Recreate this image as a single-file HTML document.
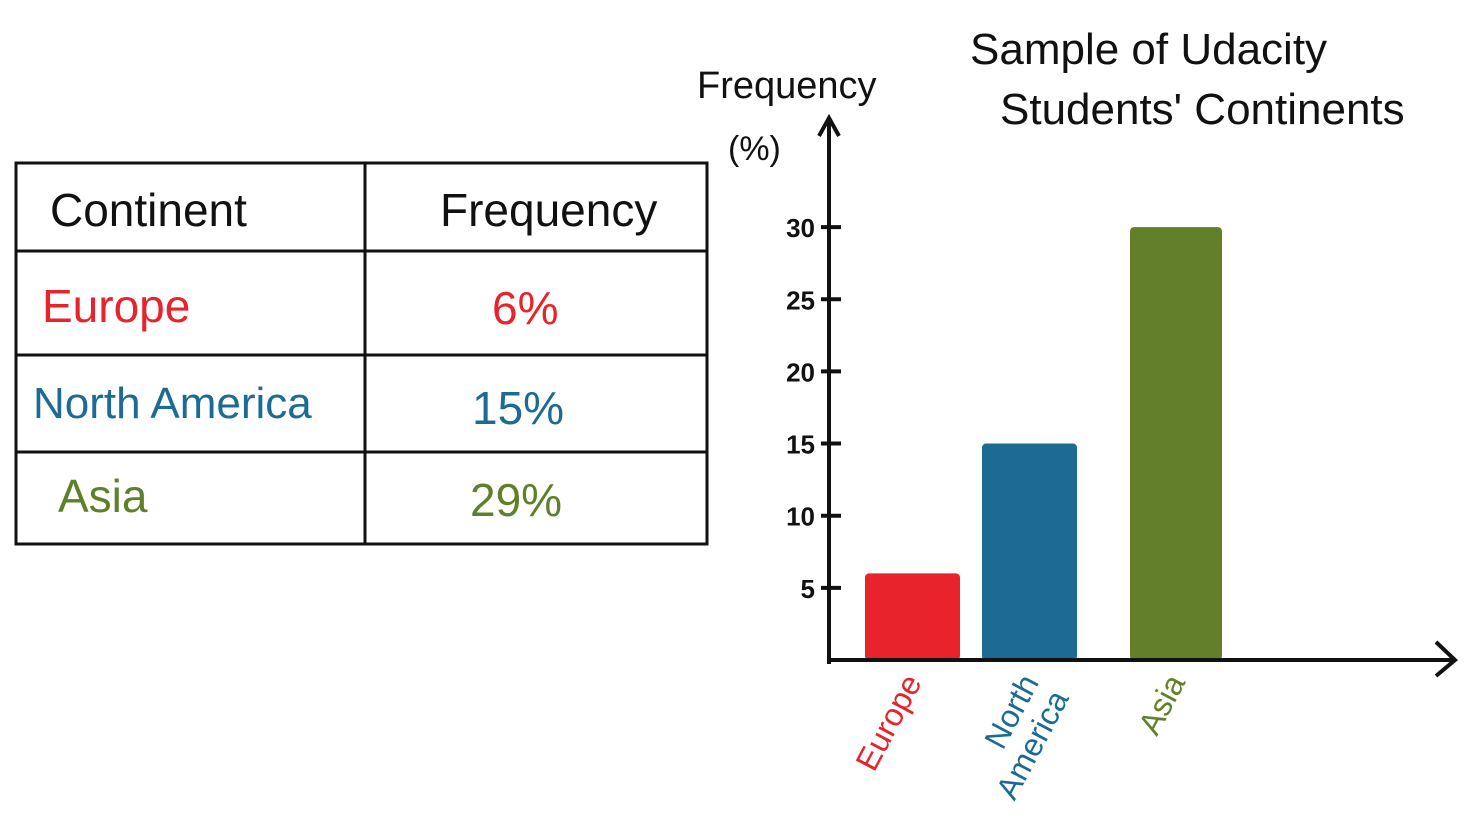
<!DOCTYPE html>
<html><head><meta charset="utf-8"><style>
html,body{margin:0;padding:0;background:#fff;width:1471px;height:822px;overflow:hidden}
svg{display:block}
text{font-family:"Liberation Sans",sans-serif}
</style></head><body>
<svg width="1471" height="822">
<g stroke="#111" stroke-width="3" fill="none">
  <rect x="16" y="163" width="691" height="381"/>
  <line x1="365" y1="163" x2="365" y2="544"/>
  <line x1="16" y1="251" x2="707" y2="251"/>
  <line x1="16" y1="355" x2="707" y2="355"/>
  <line x1="16" y1="452" x2="707" y2="452"/>
</g>
<g font-size="46">
  <text x="50" y="226" fill="#111">Continent</text>
  <text x="440" y="226" fill="#111">Frequency</text>
  <text x="42" y="322" fill="#e8232b">Europe</text>
  <text x="492" y="324" fill="#e8232b">6%</text>
  <text x="33" y="418" fill="#1c6b94" font-size="44">North America</text>
  <text x="472" y="424" fill="#1c6b94">15%</text>
  <text x="58" y="512" fill="#5f7f2a">Asia</text>
  <text x="470" y="516" fill="#5f7f2a">29%</text>
</g>
<text x="970" y="64" font-size="44" fill="#111">Sample of Udacity</text>
<text x="1000" y="124" font-size="44" fill="#111">Students' Continents</text>
<text x="697" y="98" font-size="38" fill="#111">Frequency</text>
<text x="728" y="160" font-size="34" fill="#111">(%)</text>
<g id="chart"></g>
</svg>
<script>
const categories=["Europe","North America","Asia"];
const values=[6,15,30];
const colors=["#e8232b","#1c6b94","#62802a"];
const ticks=[5,10,15,20,25,30];
const ns="http://www.w3.org/2000/svg";
const g=document.getElementById('chart');
const x0=829,y0=660,unit=14.43;
const yS=v=>y0-v*unit;
const barX=[865,982,1130],barW=[95,95,92];
function mk(t,a){const e=document.createElementNS(ns,t);for(const k in a)e.setAttribute(k,a[k]);g.appendChild(e);return e;}
values.forEach((v,i)=>{
  const r=mk('rect',{x:barX[i],y:yS(v),width:barW[i],height:y0-yS(v),rx:4,fill:colors[i]});
  
  
  const lines=categories[i].split(' ');
  const t=mk('text',{transform:`translate(${barX[i]+barW[i]/2+10},${y0+22}) rotate(-62)`,'text-anchor':'end','font-size':32,fill:colors[i]});
  
  
  lines.forEach((l,j)=>{const s=document.createElementNS(ns,'tspan');s.setAttribute('x',0);s.setAttribute('dy',j?34:0);s.textContent=l;t.appendChild(s);});
});
ticks.forEach(v=>{
  const l=mk('line',{x1:x0-8,x2:x0+12,y1:yS(v),y2:yS(v),stroke:'#111','stroke-width':4});
  
  
  const t=mk('text',{x:x0-14,y:yS(v)+10,'text-anchor':'end','font-size':26,'font-weight':'bold',fill:'#111'});
  t.textContent=v;
  
  
});
const ya=mk('path',{d:`M${x0} ${y0+4} L${x0} 118 M${x0-10} 136 L${x0} 118 L${x0+10} 136`,stroke:'#111','stroke-width':4,fill:'none'});


const xa=mk('path',{d:`M${x0} ${y0} L1455 ${y0} M1436 642 L1455 ${y0} L1436 676`,stroke:'#111','stroke-width':4,fill:'none'});


</script>
</body></html>
